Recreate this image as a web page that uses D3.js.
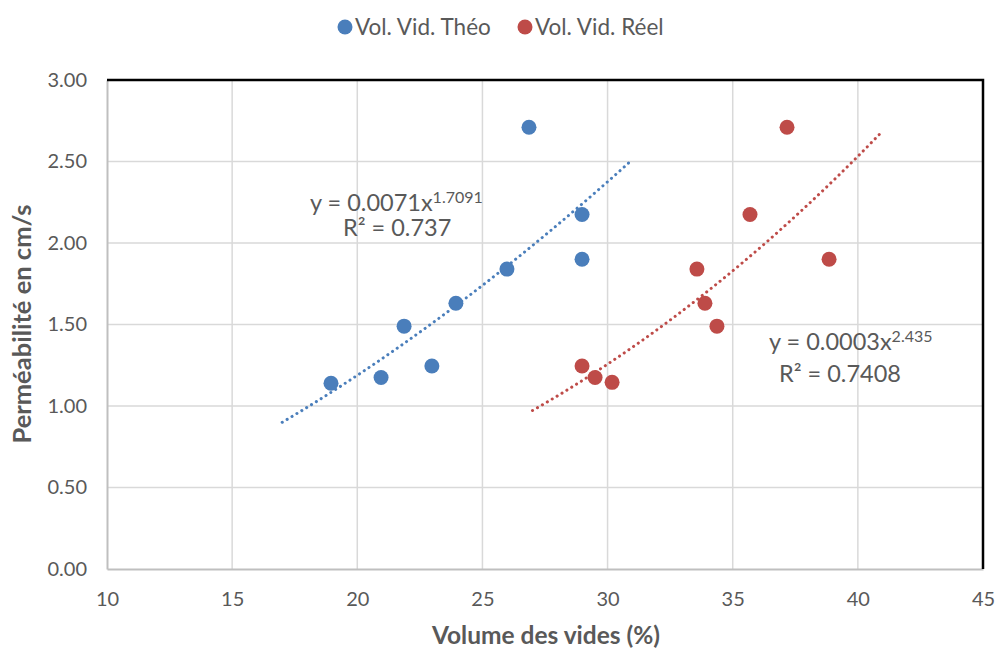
<!DOCTYPE html>
<html>
<head>
<meta charset="utf-8">
<script src="https://cdn.jsdelivr.net/npm/d3@7"></script>
<style>
  html, body { margin: 0; padding: 0; background: #fff; }
  svg { display: block; font-family: Lato, "Open Sans", sans-serif; }
</style>
</head>
<body>
<svg id="chart" width="997" height="651"></svg>
<script>
// Series: void ratio (%) vs permeability (cm/s)
const theoX = [18.95, 20.95, 21.87, 22.98, 23.94, 25.98, 26.86, 28.98, 28.98];
const theoY = [1.14, 1.175, 1.49, 1.245, 1.63, 1.84, 2.71, 2.175, 1.90];
const reelX = [28.98, 29.5, 30.18, 33.57, 33.89, 34.37, 35.69, 37.17, 38.85];
const reelY = [1.245, 1.175, 1.145, 1.84, 1.63, 1.49, 2.175, 2.71, 1.90];

const seriesNames = ["Vol. Vid. Théo", "Vol. Vid. Réel"];
const seriesColors = ["#4a7ebb", "#be4b48"];

// Power trendlines y = a * x^b
const trendCoef = [0.0071, 0.000318];
const trendExp = [1.7091, 2.435];
const trendR2 = ["0.737", "0.7408"];
const trendRange = [[17, 31], [27, 41]];

const xTicks = [10, 15, 20, 25, 30, 35, 40, 45];
const yTicks = [0, 0.5, 1, 1.5, 2, 2.5, 3];

const svg = d3.select("#chart");
const plotL = 107, plotR = 983, plotT = 80, plotB = 569;
const x = d3.scaleLinear().domain([10, 45]).range([plotL, plotR]);
const y = d3.scaleLinear().domain([0, 3]).range([plotB, plotT]);

const textCol = "#595959";

// gridlines
const grid = svg.append("g");
grid.selectAll("line.v").data(xTicks.slice(1, -1)).join("line")
  .attr("x1", d => x(d)).attr("x2", d => x(d))
  .attr("y1", plotT).attr("y2", plotB)
  .attr("stroke", "#d9d9d9").attr("stroke-width", 1.5);
grid.selectAll("line.h").data(yTicks.slice(1, -1)).join("line")
  .attr("x1", plotL).attr("x2", plotR)
  .attr("y1", d => y(d)).attr("y2", d => y(d))
  .attr("stroke", "#d9d9d9").attr("stroke-width", 1.5);

// axes
const xAxis = svg.append("g").attr("transform", `translate(0,${plotB})`)
  .call(d3.axisBottom(x).tickValues(xTicks).tickSize(0).tickPadding(23).tickFormat(d3.format("d")));
xAxis.select(".domain").attr("stroke", "#bfbfbf").attr("stroke-width", 2);
xAxis.selectAll("text").attr("fill", textCol).style("font-size", "20px").style("font-family", "Lato, sans-serif");

const yAxis = svg.append("g").attr("transform", `translate(${plotL},0)`)
  .call(d3.axisLeft(y).tickValues(yTicks).tickSize(0).tickPadding(20).tickFormat(d3.format(".2f")));
yAxis.select(".domain").attr("stroke", "#bfbfbf").attr("stroke-width", 2);
yAxis.selectAll("text").attr("fill", textCol).style("font-size", "20px").style("font-family", "Lato, sans-serif");

// frame on top and right
svg.append("path")
  .attr("d", `M${plotL},${y(3)}H${plotR}V${plotB}`)
  .attr("fill", "none").attr("stroke", "#000").attr("stroke-width", 2.5);

// trendlines
[0, 1].forEach(i => {
  const xs = d3.range(trendRange[i][0], trendRange[i][1] + 0.001, 0.1);
  const line = d3.line().x(d => x(d)).y(d => y(trendCoef[i] * Math.pow(d, trendExp[i])));
  svg.append("path").datum(xs)
    .attr("d", line)
    .attr("fill", "none")
    .attr("stroke", seriesColors[i])
    .attr("stroke-width", 3)
    .attr("stroke-linecap", "round")
    .attr("stroke-dasharray", "0.1 5.6");
});

// points
const sets = [[theoX, theoY], [reelX, reelY]];
sets.forEach((s, i) => {
  svg.append("g").selectAll("circle")
    .data(s[0].map((v, k) => [v, s[1][k]]))
    .join("circle")
    .attr("cx", d => x(d[0])).attr("cy", d => y(d[1]))
    .attr("r", 7.5).attr("fill", seriesColors[i]);
});

// equation labels
const coefFmt = [d3.format(".2r"), d3.format(".1r")];
const eqPos = [[310, 211, 343, 236], [769, 350, 779, 382]];
[0, 1].forEach(i => {
  const g = svg.append("g").attr("fill", textCol).style("font-size", "23.5px");
  const t = g.append("text").attr("x", eqPos[i][0]).attr("y", eqPos[i][1]);
  t.append("tspan").text("y = " + coefFmt[i](trendCoef[i]) + "x");
  t.append("tspan").attr("dy", -8).style("font-size", "16px").text(trendExp[i]);
  g.append("text").attr("x", eqPos[i][2]).attr("y", eqPos[i][3])
    .text("R² = " + trendR2[i]);
});

// legend
const legend = svg.append("g").style("font-size", "22.5px");
const legX = [345, 525];
seriesNames.forEach((n, i) => {
  legend.append("circle").attr("cx", legX[i]).attr("cy", 27).attr("r", 7.5).attr("fill", seriesColors[i]);
  legend.append("text").attr("x", legX[i] + 10).attr("y", 35).attr("fill", textCol).text(n);
});

// axis titles
svg.append("text").attr("x", 546).attr("y", 644).attr("text-anchor", "middle")
  .attr("fill", textCol).style("font-size", "24.5px").style("font-weight", "bold")
  .text("Volume des vides (%)");
svg.append("text").attr("transform", "translate(31,324) rotate(-90)").attr("text-anchor", "middle")
  .attr("fill", textCol).style("font-size", "25.5px").style("font-weight", "bold")
  .text("Perméabilité en cm/s");
</script>
</body>
</html>
